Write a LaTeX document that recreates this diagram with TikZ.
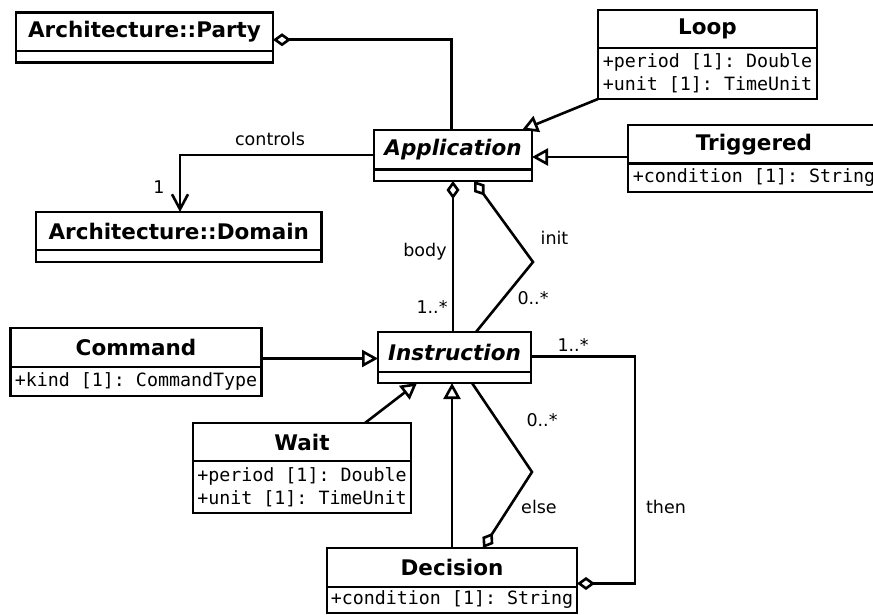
\documentclass[tikz,border=0pt]{standalone}
\usepackage{fontspec}
\setmainfont{DejaVu Sans}
\setmonofont{DejaVu Sans Mono}
\usetikzlibrary{arrows.meta,calc}

% fonts for class names, abstract class names, attributes and edge labels
\newcommand\clsfont{\fontsize{21.5}{25}\selectfont\bfseries}
\newcommand\absfont{\fontsize{21.5}{25}\selectfont\bfseries\itshape}
\newcommand\attrfont{\fontsize{18.3}{23}\selectfont\ttfamily}
\newcommand\lblfont{\fontsize{17.5}{20}\selectfont}

\begin{document}
\begin{tikzpicture}[x=1pt,y=-1pt,
  every node/.style={inner sep=0pt,outer sep=0pt},
  hdr/.style={draw,line width=2.7pt,anchor=north west,font=\clsfont,fill=white},
  abshdr/.style={hdr,font=\absfont},
  cmp/.style={draw,line width=2.7pt,anchor=north west,font=\attrfont,align=left,fill=white},
  lbl/.style={font=\lblfont},
  conn/.style={line width=2.6pt},
  gen/.style={conn,-{Triangle[open,length=16pt,width=17pt]}},
  agg/.style={conn,{Diamond[open,length=18pt,width=13pt]}-},
  nav/.style={conn,-{Straight Barb[length=15pt,width=16pt]}}]

\useasboundingbox (0,0) rectangle (873,615);
\clip (0,0) rectangle (873,615);

% ---- classes ----
\node[hdr,minimum width=257pt,minimum height=38.5pt] (party) at (16,12.5) {Architecture::Party};
\node[cmp,minimum width=257pt,minimum height=11.5pt] (party-a) at (party.south west) {};

\node[hdr,minimum width=219pt,minimum height=38pt] (loop) at (598,10) {Loop};
\node[cmp,minimum width=219pt,minimum height=51pt] (loop-a) at (loop.south west)
  {+period [1]: Double\\+unit [1]: TimeUnit};

\node[abshdr,minimum width=158pt,minimum height=39.5pt] (app) at (374,130) {Application};
\node[cmp,minimum width=158pt,minimum height=11.5pt] (app-a) at (app.south west) {};

\node[hdr,minimum width=252pt,minimum height=38.5pt] (trig) at (628,125) {Triggered};
\node[cmp,minimum width=252pt,minimum height=28.5pt] (trig-a) at (trig.south west)
  {+condition [1]: String};

\node[hdr,minimum width=285.5pt,minimum height=38pt] (dom) at (36,212) {Architecture::Domain};
\node[cmp,minimum width=285.5pt,minimum height=12pt] (dom-a) at (dom.south west) {};

\node[hdr,minimum width=251pt,minimum height=39pt] (cmd) at (10.5,328) {Command};
\node[cmp,minimum width=251pt,minimum height=29pt] (cmd-a) at (cmd.south west)
  {+kind [1]: CommandType};

\node[abshdr,minimum width=153pt,minimum height=40pt] (instr) at (378,332) {Instruction};
\node[cmp,minimum width=153pt,minimum height=11pt] (instr-a) at (instr.south west) {};

\node[hdr,minimum width=218pt,minimum height=38pt] (wait) at (193,423) {Wait};
\node[cmp,minimum width=218pt,minimum height=52pt] (wait-a) at (wait.south west)
  {+period [1]: Double\\+unit [1]: TimeUnit};

\node[hdr,minimum width=250pt,minimum height=39pt] (dec) at (327,548) {Decision};
\node[cmp,minimum width=250pt,minimum height=26pt] (dec-a) at (dec.south west)
  {+condition [1]: String};

% ---- helper points for bent and offset connectors ----
\coordinate (initbend) at (533,262);
\coordinate (elsebend) at (532,472);
\coordinate (thencorner) at (635,356.5);
\coordinate (trigin) at ([yshift=-12.75pt]trig.west);
\coordinate (cmdin) at ([yshift=-6.5pt]instr.west);

% ---- connectors ----
\draw[agg] ([yshift=-8pt]party.east) -| ([xshift=-1.5pt]app.north);
\draw[gen] (loop-a.south west) -- ([xshift=-10pt]app.north east);
\draw[gen] (trigin) -- (trigin -| app.east);
\draw[nav] ([yshift=-5.25pt]app.west) -| ([xshift=1.25pt]dom.north);

\draw[agg] (app-a.south) -- (app-a.south |- instr.north);
\draw[agg] ([xshift=21pt]app-a.south) -- (initbend) -- ([xshift=21.5pt]instr.north);

\draw[gen] (cmd.east |- cmdin) -- (cmdin);
\draw[gen] ([xshift=63pt]wait.north) -- ([xshift=-37.5pt]instr-a.south);
\draw[gen] (dec.north) -- (dec.north |- instr-a.south);
\draw[agg] ([xshift=31pt]dec.north) -- (elsebend) -- ([xshift=17.5pt]instr-a.south);
\draw[agg] ([yshift=-16pt]dec.east) -| (thencorner) -- (instr.east |- thencorner);

% ---- labels ----
\node[lbl] (l-controls) at (270,139) {controls};
\node[lbl] (l-one) at (159,187) {1};
\node[lbl] (l-body) at (425,252) {body};
\node[lbl] (l-bodym) at (432,307) {1..*};
\node[lbl] (l-init) at (554.5,238) {init};
\node[lbl] (l-initm) at (533,298) {0..*};
\node[lbl] (l-thenm) at (573,345) {1..*};
\node[lbl] (l-elsem) at (542,420) {0..*};
\node[lbl] (l-else) at (539,507) {else};
\node[lbl] (l-then) at (666,507) {then};
\end{tikzpicture}
\end{document}
